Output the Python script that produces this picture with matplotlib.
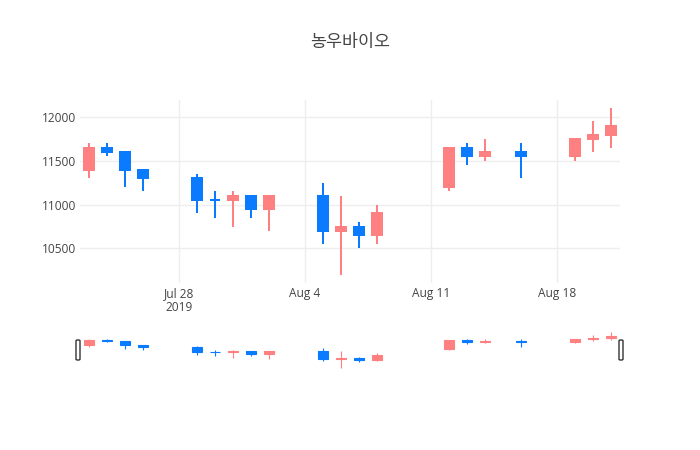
import matplotlib
matplotlib.use("Agg")
import matplotlib.pyplot as plt
import matplotlib.dates as mdates
import pandas as pd
from matplotlib.patches import FancyBboxPatch

plt.rcParams['font.family'] = ['Open Sans', 'Noto Sans CJK KR', 'DejaVu Sans']

# daily OHLC
dates = ["2019-07-23", "2019-07-24", "2019-07-25", "2019-07-26",
         "2019-07-29", "2019-07-30", "2019-07-31", "2019-08-01", "2019-08-02",
         "2019-08-05", "2019-08-06", "2019-08-07", "2019-08-08",
         "2019-08-12", "2019-08-13", "2019-08-14", "2019-08-16",
         "2019-08-19", "2019-08-20", "2019-08-21"]
opens = [11400, 11650, 11600, 11400, 11300, 11050, 11050, 11100, 10950,
         11100, 10700, 10750, 10650, 11200, 11650, 11550, 11600, 11550, 11750, 11800]
highs = [11700, 11700, 11600, 11400, 11350, 11150, 11150, 11100, 11100,
         11250, 11100, 10800, 11000, 11650, 11700, 11750, 11700, 11750, 11950, 12100]
lows = [11300, 11550, 11200, 11150, 10900, 10850, 10750, 10850, 10700,
        10550, 10200, 10500, 10550, 11150, 11450, 11500, 11300, 11500, 11600, 11650]
closes = [11650, 11600, 11400, 11300, 11050, 11050, 11100, 10950, 11100,
          10700, 10750, 10650, 10900, 11650, 11550, 11600, 11550, 11750, 11800, 11900]

tick_dates = ["2019-07-28", "2019-08-04", "2019-08-11", "2019-08-18"]
tick_labels = ["Jul 28\n2019", "Aug 4", "Aug 11", "Aug 18"]
y_ticks = [10500, 11000, 11500, 12000]

UP = "#FF8080"
DOWN = "#0A7BFF"
TXT = "#444444"
GRID = "#EEEEEE"

x = mdates.date2num(pd.to_datetime(dates))
xt = mdates.date2num(pd.to_datetime(tick_dates))


def candles(ax, lw, width):
    for xi, o, h, l, c in zip(x, opens, highs, lows, closes):
        col = UP if c > o else DOWN
        ax.vlines(xi, l, h, color=col, linewidth=lw, zorder=2)
        ax.bar(xi, abs(c - o), bottom=min(o, c), width=width, color=col,
               edgecolor=col, linewidth=lw, zorder=3)


fig = plt.figure(figsize=(7, 4.5), dpi=100)

ax = fig.add_axes([80 / 700, 1 - 283 / 450, 540 / 700, 183 / 450])
candles(ax, 1.44, 0.55)
ax.set_xlim(x[0] - 0.5, x[-1] + 0.5)
ax.set_ylim(10105, 12195)
ax.set_xticks(xt)
ax.set_xticklabels(tick_labels, linespacing=1.1)
ax.set_yticks(y_ticks)
ax.grid(True, color=GRID, linewidth=1)
ax.set_axisbelow(True)
ax.tick_params(length=0, labelsize=8.6, labelcolor=TXT, pad=3)
for s in ax.spines.values():
    s.set_visible(False)

# range slider
rs = fig.add_axes([80 / 700, 1 - 370 / 450, 540 / 700, 40 / 450])
candles(rs, 0.8, 0.55)
rs.set_xlim(x[0] - 0.5, x[-1] + 0.5)
rs.set_ylim(10105, 12195)
rs.set_xticks([])
rs.set_yticks([])
for s in rs.spines.values():
    s.set_visible(False)

for hx in (78, 621):
    fig.patches.append(FancyBboxPatch(((hx - 2) / 700, 1 - 360 / 450), 4 / 700, 20 / 450,
                                      boxstyle="round,pad=0,rounding_size=0.002",
                                      transform=fig.transFigure, facecolor="white",
                                      edgecolor="#333333", linewidth=1))

fig.text(0.5, 1 - 43 / 450, "농우바이오", ha="center", va="center",
         fontsize=12.5, color=TXT)

fig.savefig("out.png", dpi=100)
